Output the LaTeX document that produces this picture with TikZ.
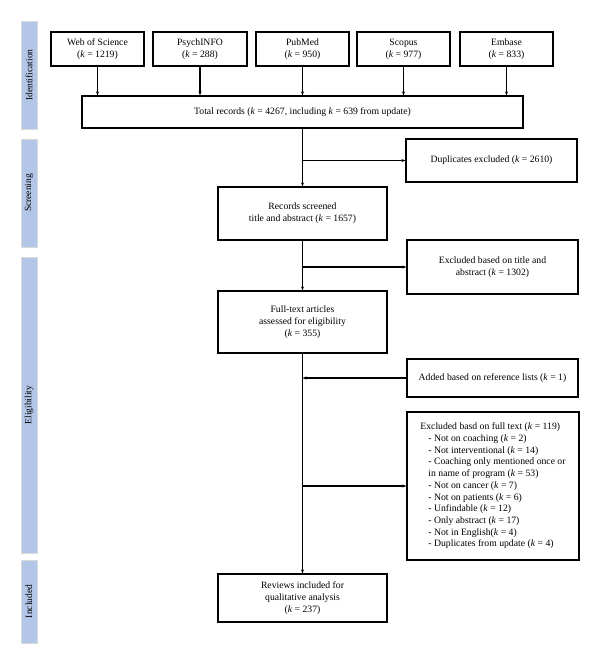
\documentclass[tikz,border=0pt]{standalone}
\usepackage{fontspec}
\setmainfont{Liberation Serif}
\usetikzlibrary{arrows.meta}
\definecolor{barblue}{HTML}{B4C6E7}
\newcommand{\kk}{\textit{k}}
\begin{document}
\begin{tikzpicture}[x=1pt,y=-1pt,
  box/.style={draw=black, line width=1.1pt, fill=white, align=center,
    font=\fontsize{9.7}{11.7}\selectfont, inner sep=2pt},
  arr/.style={-{Stealth[length=4pt,width=3pt]}, line width=1.1pt},
  bar/.style={rotate=90, fill=barblue, draw=gray!30, line width=0.6pt,
    minimum height=16pt, inner sep=0pt, font=\fontsize{9.5}{11}\selectfont}]
\useasboundingbox (0,0) rectangle (600,665);

% phase bars
\node[bar, minimum width=108pt] (bident) at (29,75) {Identification};
\node[bar, minimum width=108pt] (bscreen) at (29,193) {Screening};
\node[bar, minimum width=296pt] (belig) at (29,405) {Eligibility};
\node[bar, minimum width=83pt] (bincl) at (29,601.5) {Included};

% sources
\node[box, minimum width=93pt, minimum height=34pt] (wos) at (97.5,49) {Web of Science\\(\kk{} = 1219)};
\node[box, minimum width=94pt, minimum height=34pt] (psy) at (200,49) {PsychINFO\\(\kk{} = 288)};
\node[box, minimum width=93pt, minimum height=34pt] (pub) at (302.5,49) {PubMed\\(\kk{} = 950)};
\node[box, minimum width=93pt, minimum height=34pt] (sco) at (403.5,49) {Scopus\\(\kk{} = 977)};
\node[box, minimum width=93pt, minimum height=34pt] (emb) at (506.5,49) {Embase\\(\kk{} = 833)};

\node[box, minimum width=441pt, minimum height=32pt] (total) at (302.5,112) {Total records (\kk{} = 4267, including \kk{} = 639 from update)};

\node[box, minimum width=171pt, minimum height=43pt] (dup) at (491.5,160.5) {Duplicates excluded (\kk{} = 2610)};
\node[box, minimum width=169pt, minimum height=53pt] (screen) at (302.5,213.5) {Records screened\\title and abstract (\kk{} = 1657)};
\node[box, minimum width=171pt, minimum height=54pt] (extitle) at (492.5,267) {Excluded based on title and\\abstract (\kk{} = 1302)};
\node[box, minimum width=169pt, minimum height=62pt] (full) at (302.5,322) {Full-text articles\\assessed for eligibility\\(\kk{} = 355)};
\node[box, minimum width=171pt, minimum height=38pt] (added) at (492.5,378) {Added based on reference lists (\kk{} = 1)};
\node[box, align=left, minimum width=172pt, minimum height=148pt] (exfull) at (493,486) {Excluded basd on full text (\kk{} = 119)\\
\hspace*{8pt}- Not on coaching (\kk{} = 2)\\
\hspace*{8pt}- Not interventional (\kk{} = 14)\\
\hspace*{8pt}- Coaching only mentioned once or\\
\hspace*{8pt}in name of program (\kk{} = 53)\\
\hspace*{8pt}- Not on cancer (\kk{} = 7)\\
\hspace*{8pt}- Not on patients (\kk{} = 6)\\
\hspace*{8pt}- Unfindable (\kk{} = 12)\\
\hspace*{8pt}- Only abstract (\kk{} = 17)\\
\hspace*{8pt}- Not in English(\kk{} = 4)\\
\hspace*{8pt}- Duplicates from update (\kk{} = 4)};
\node[box, minimum width=169pt, minimum height=48pt] (rev) at (302.5,598) {Reviews included for\\qualitative analysis\\(\kk{} = 237)};

% connectors
\foreach \s in {wos,psy,pub,sco,emb}
  \draw[arr] (\s.south) -- (\s.south |- total.north);
\draw[arr] (total.south) -- (screen.north);
\draw[arr] (total.south |- dup.west) -- (dup.west);
\draw[arr] (screen.south) -- (full.north);
\draw[arr] (screen.south |- extitle.west) -- (extitle.west);
\draw[arr] (full.south) -- (rev.north);
\draw[arr] (added.west) -- (added.west -| full.south);
\draw[arr] (full.south |- exfull.west) -- (exfull.west);
\end{tikzpicture}
\end{document}
